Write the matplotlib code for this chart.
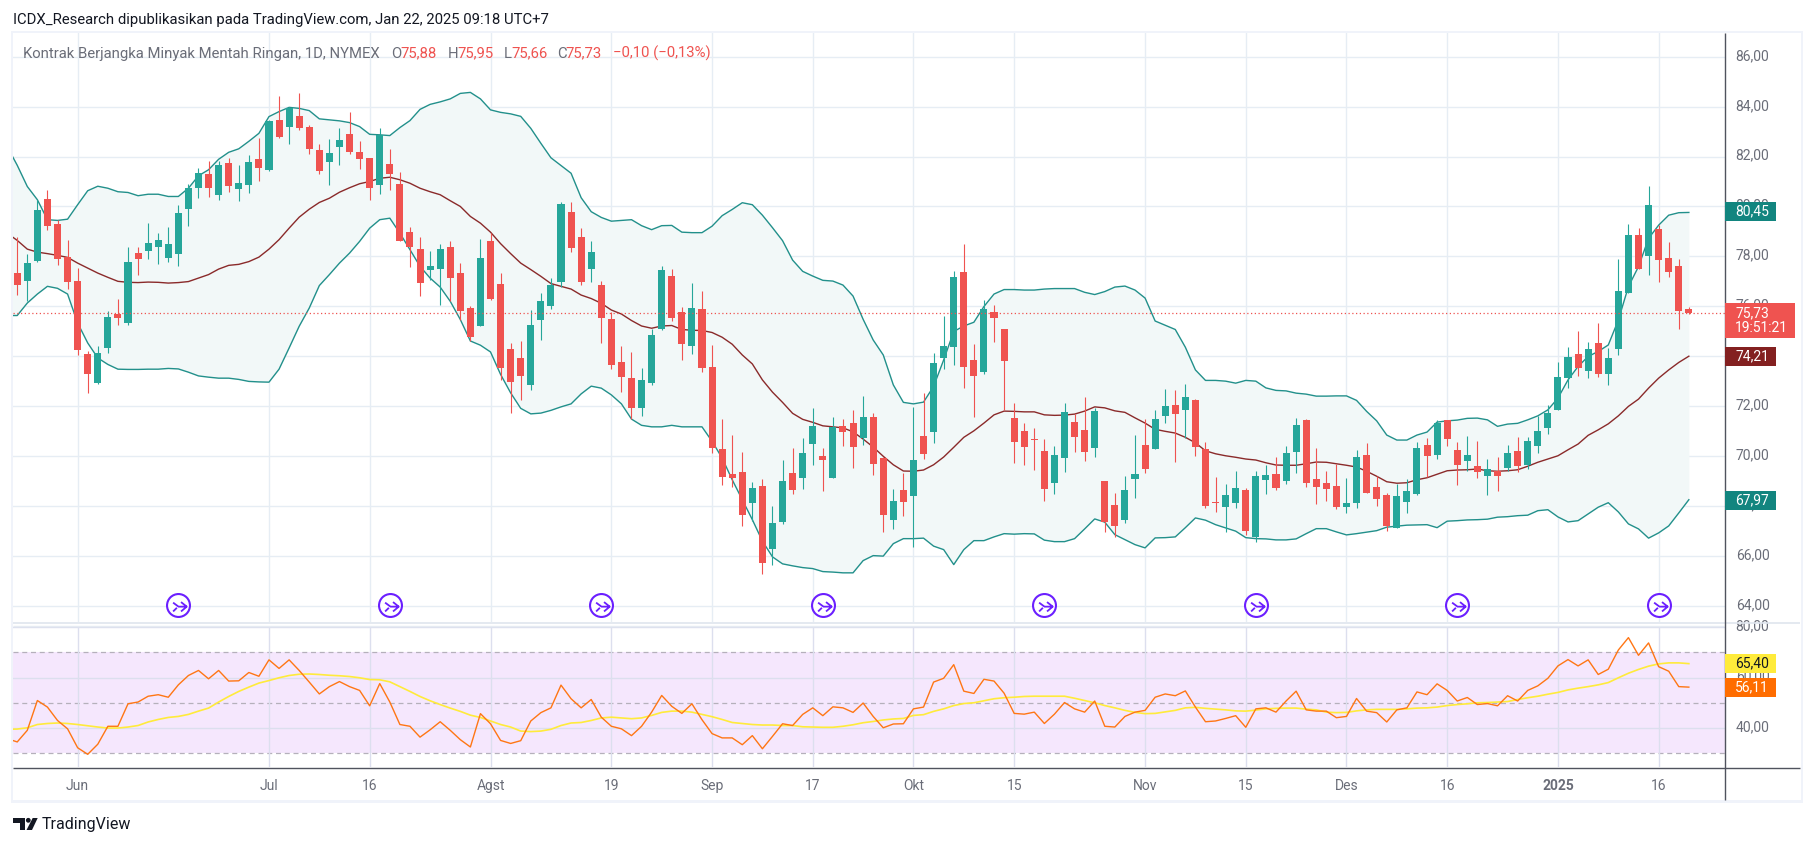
import matplotlib
matplotlib.use("Agg")
import matplotlib.pyplot as plt
import numpy as np
from matplotlib.lines import Line2D
from matplotlib.patches import Rectangle, Polygon, Ellipse
from matplotlib.path import Path
from matplotlib.transforms import ScaledTranslation

plt.rcParams['font.family'] = ['Roboto', 'DejaVu Sans']

W, H = 1814, 846

opens = [77.35,77.03,77.83,80.31,79.31,77.99,77.03,74.07,72.91,74.31,
75.71,75.35,78.15,78.23,78.39,77.95,78.11,79.91,80.75,81.31,
80.47,81.75,80.71,80.87,81.91,81.47,83.47,83.19,83.63,83.19,
82.27,81.79,82.39,82.91,82.19,81.95,80.87,81.71,80.91,78.99,
78.31,77.47,77.51,78.39,77.35,75.95,75.23,78.63,76.91,74.27,
73.91,72.83,75.47,76.03,76.99,79.79,78.79,77.51,76.85,75.49,
73.77,73.13,71.93,72.93,75.09,77.21,75.77,74.41,75.89,73.57,
70.29,69.29,69.37,68.13,68.81,66.29,67.37,69.33,69.13,70.49,
70.01,69.13,71.21,71.33,70.73,71.57,69.93,67.45,68.65,68.41,
70.81,70.97,73.93,74.37,77.37,73.85,73.37,75.77,75.09,71.53,
71.01,70.69,70.21,68.93,69.93,71.37,71.05,70.33,69.01,68.05,
67.45,69.09,70.45,70.29,71.61,72.05,71.85,72.25,70.29,68.17,
67.97,68.13,68.65,66.77,69.05,69.29,69.01,70.17,71.45,69.09,
68.93,68.81,67.97,68.13,70.05,68.77,68.45,67.13,68.17,68.49,
70.45,70.05,71.45,70.25,69.81,69.61,69.21,69.41,69.53,70.21,
69.65,70.41,71.13,71.85,73.13,74.09,73.41,74.53,73.29,74.29,
76.53,78.85,78.01,79.09,77.93,77.61,75.88]

highs = [78.77,78.11,80.27,80.67,79.47,78.67,77.53,74.19,74.39,75.83,
76.31,78.36,78.39,79.35,78.95,79.19,80.07,80.91,81.55,81.83,
81.83,81.95,81.67,82.07,82.75,83.47,84.43,83.99,84.55,83.27,
82.51,82.71,83.15,83.79,82.63,81.95,83.15,82.31,81.39,79.19,
78.79,78.23,78.51,78.63,77.75,76.00,78.71,78.95,77.35,74.51,
74.59,75.87,76.55,77.15,80.19,80.19,79.15,78.63,77.01,75.77,
74.41,74.17,73.53,75.09,77.61,77.49,75.97,76.93,76.61,74.45,
71.49,70.85,70.17,68.97,69.09,68.01,69.85,70.33,70.73,71.93,
70.33,71.57,71.49,71.85,72.41,71.73,69.97,68.69,69.33,71.97,
72.53,74.12,75.61,77.41,78.49,74.49,76.25,76.05,75.09,72.13,
71.33,71.13,70.69,70.41,72.13,71.69,72.37,71.93,69.01,68.53,
69.21,70.85,71.49,71.85,72.69,72.65,72.89,72.29,70.57,69.17,
68.89,69.41,68.73,69.41,69.65,69.97,70.41,71.53,71.49,70.33,
69.41,69.69,69.13,70.25,70.53,69.21,68.52,68.89,69.09,70.57,
70.73,71.45,71.45,70.57,70.81,70.61,69.89,69.97,70.45,70.77,
70.77,71.61,72.05,73.77,74.37,75.01,74.57,75.33,74.33,77.89,
79.29,79.13,80.81,79.25,78.57,77.89,75.97]

lows = [76.47,76.20,77.76,79.04,77.67,76.71,74.03,72.51,72.87,74.11,
75.27,75.27,77.27,77.91,77.71,77.79,77.63,79.23,80.35,80.39,
80.27,80.59,80.23,80.55,81.03,81.44,82.75,82.51,83.07,82.11,
81.31,80.87,81.67,82.11,81.51,80.27,80.51,80.67,78.63,77.59,
76.43,77.07,76.07,76.20,75.47,74.60,75.23,76.27,73.03,71.71,
72.23,72.63,74.63,75.91,76.79,78.19,76.87,76.99,74.53,73.49,
72.57,71.49,71.61,72.85,75.05,75.41,73.85,74.09,73.37,70.13,
68.85,68.77,67.21,67.39,65.29,65.65,67.29,68.49,68.69,69.65,
68.61,69.13,70.41,69.53,70.45,69.25,66.97,67.09,67.61,66.37,
69.89,70.53,73.49,73.65,72.73,71.57,73.29,74.57,71.85,69.73,
69.65,69.45,68.21,68.49,69.37,70.17,69.81,69.97,66.97,66.77,
67.33,68.33,69.33,70.29,71.33,69.77,70.73,70.01,67.93,67.77,
66.97,67.93,66.85,66.57,68.49,68.65,68.89,69.33,68.77,68.09,
68.21,67.89,67.73,67.93,68.53,68.01,67.01,67.13,67.73,68.45,
69.17,69.89,70.41,68.85,69.41,69.13,68.45,68.61,69.41,69.37,
69.49,70.13,70.89,71.85,72.73,73.21,73.13,73.17,72.85,74.05,
76.53,77.49,77.25,76.97,77.17,75.09,75.69]

closes = [76.87,77.75,79.87,79.23,77.91,76.99,74.23,73.27,74.11,75.59,
75.55,77.79,77.91,78.55,78.67,78.51,79.75,80.75,81.35,80.75,
81.67,80.83,80.95,81.79,81.55,83.43,82.79,83.95,83.15,82.31,
81.43,82.15,82.67,82.19,81.91,80.75,82.87,81.31,78.63,78.39,
76.95,77.63,78.31,77.15,75.83,74.75,77.95,76.31,73.51,72.95,
73.19,75.27,76.23,76.87,80.11,78.35,76.99,78.19,75.55,73.65,
73.17,71.93,73.05,74.85,77.45,75.53,74.49,75.93,73.53,70.33,
69.17,69.13,67.65,68.73,65.73,67.33,69.01,68.65,70.13,71.21,
69.85,71.17,70.97,70.37,71.57,69.69,67.65,68.21,68.17,69.85,
70.09,73.73,74.41,77.17,73.57,73.21,75.89,75.53,73.81,70.57,
70.37,70.65,68.69,70.05,71.77,70.77,70.17,71.81,67.37,67.21,
68.65,69.29,69.49,71.49,72.01,71.69,72.37,70.37,68.01,68.13,
68.45,68.73,67.01,69.21,69.25,68.73,70.13,71.25,68.93,68.77,
68.69,67.97,68.13,69.97,68.53,68.29,67.21,68.41,68.61,70.33,
70.01,71.33,70.69,69.65,70.05,69.37,69.49,69.21,70.13,69.61,
70.61,71.01,71.73,73.17,73.97,73.53,74.29,73.29,73.93,76.61,
78.85,77.49,80.05,77.85,77.37,75.81,75.73]

# Bollinger bands and RSI start one bar before the first visible candle
bb_upper = [82.40,81.65,80.80,80.27,79.47,79.44,79.49,80.07,80.63,80.81,80.73,
80.59,80.56,80.43,80.49,80.49,80.40,80.40,80.73,81.23,81.47,
81.89,82.17,82.31,82.61,82.93,83.60,83.80,83.97,83.93,83.84,
83.51,83.47,83.43,83.36,83.20,82.89,82.87,82.84,83.16,83.44,
83.89,84.09,84.19,84.31,84.53,84.57,84.31,83.87,83.77,83.71,
83.61,83.13,82.53,81.95,81.64,81.33,80.35,79.79,
79.56,79.41,79.44,79.47,79.23,79.07,79.23,79.24,78.97,78.95,
78.95,79.21,79.63,79.88,80.15,80.07,79.65,79.15,78.63,77.85,
77.40,77.21,77.04,77.01,76.85,76.41,75.48,74.65,74.05,72.85,
72.15,72.09,72.16,72.79,73.85,74.99,75.21,75.36,75.99,76.49,
76.67,76.67,76.65,76.65,76.69,76.71,76.71,76.71,76.56,76.47,
76.59,76.77,76.81,76.65,76.33,75.41,75.24,75.07,74.36,73.45,
73.03,73.03,73.00,72.92,73.03,73.00,72.73,72.63,72.61,72.52,
72.48,72.40,72.40,72.41,72.41,72.23,71.79,71.41,70.84,70.64,
70.64,70.84,70.96,71.36,71.41,71.44,71.51,71.52,71.45,71.19,
71.28,71.31,71.45,71.61,71.85,72.32,73.05,73.59,73.99,74.19,
74.45,75.45,76.79,77.59,78.72,79.25,79.65,79.75,79.76]

bb_lower = [75.63,75.63,76.13,76.49,76.80,76.72,76.49,75.33,74.53,73.93,73.67,
73.48,73.47,73.47,73.48,73.48,73.51,73.49,73.36,73.21,73.16,
73.12,73.12,73.07,72.99,72.97,72.96,73.48,74.33,75.20,75.93,
76.83,77.27,77.73,78.13,78.60,79.13,79.47,79.53,78.93,78.27,
77.60,77.13,76.77,76.20,75.47,74.61,74.44,74.17,73.27,72.53,
71.91,71.69,71.72,71.83,71.97,72.09,72.49,72.80,
72.72,72.45,72.09,71.48,71.23,71.17,71.17,71.23,71.17,71.17,
71.17,70.59,69.92,69.05,68.25,67.45,66.59,65.96,65.68,65.60,
65.53,65.49,65.37,65.35,65.32,65.32,65.81,66.01,65.99,66.49,
66.69,66.69,66.71,66.39,66.25,65.65,66.25,66.61,66.61,66.76,
66.89,66.87,66.89,66.88,66.63,66.57,66.57,66.69,67.08,67.48,
67.35,66.85,66.65,66.45,66.32,66.72,66.73,66.76,67.13,67.52,
67.43,67.25,67.12,66.99,66.73,66.69,66.68,66.64,66.64,66.68,
66.89,67.09,67.09,66.96,66.84,66.89,66.95,67.01,67.15,67.19,
67.23,67.24,67.25,67.13,67.39,67.41,67.44,67.45,67.47,67.55,
67.57,67.61,67.63,67.81,67.85,67.56,67.36,67.41,67.68,67.95,
68.13,67.76,67.28,67.08,66.71,66.92,67.20,67.72,68.25]

bb_basis = [78.93,78.64,78.29,78.17,78.11,78.04,77.96,77.73,77.53,77.33,77.16,
77.00,76.96,76.95,76.97,76.96,76.93,76.95,76.99,77.13,77.27,
77.49,77.64,77.68,77.79,77.97,78.29,78.67,79.13,79.57,79.89,
80.16,80.33,80.57,80.75,80.91,81.00,81.13,81.17,81.07,80.93,
80.73,80.59,80.47,80.23,80.00,79.60,79.33,78.97,78.51,78.11,
77.73,77.47,77.20,76.91,76.80,76.69,76.45,76.31,
76.12,75.85,75.69,75.43,75.21,75.12,75.21,75.23,75.07,75.04,
75.03,74.95,74.76,74.48,74.05,73.69,73.05,72.56,72.15,71.71,
71.47,71.35,71.21,71.17,71.13,70.97,70.68,70.36,69.99,69.65,
69.40,69.39,69.44,69.65,69.96,70.35,70.75,71.01,71.32,71.65,
71.80,71.79,71.77,71.77,71.65,71.63,71.64,71.68,71.80,71.97,
71.93,71.81,71.75,71.53,71.32,71.07,70.99,70.92,70.75,70.53,
70.21,70.09,70.01,69.95,69.88,69.84,69.73,69.64,69.63,69.63,
69.69,69.76,69.75,69.69,69.63,69.56,69.39,69.19,68.97,68.91,
68.93,69.05,69.13,69.27,69.41,69.44,69.45,69.48,69.41,69.39,
69.41,69.45,69.59,69.75,69.88,70.01,70.25,70.48,70.83,71.05,
71.29,71.61,71.99,72.28,72.72,73.12,73.45,73.75,74.00]

rsi = [35.8,34.5,39.1,50.9,48.3,43.0,39.7,32.2,29.6,33.6,40.7,
40.7,49.6,50.3,52.6,53.2,52.2,57.1,60.8,62.8,59.5,
62.8,58.6,58.7,62.0,60.5,67.0,63.6,67.0,62.8,58.2,
53.5,56.4,58.4,56.4,54.9,48.8,57.6,50.3,41.4,40.7,
36.4,39.3,42.5,39.1,35.4,32.5,45.7,41.7,35.1,33.9,
35.0,42.8,46.1,48.0,57.0,51.6,48.0,51.3,44.3,40.7,
39.7,37.0,40.7,46.3,52.9,48.6,45.8,49.6,43.3,37.8,
36.1,36.1,33.4,37.0,31.8,36.7,41.7,41.0,45.4,48.0,
44.9,48.4,48.0,46.2,49.9,44.6,40.1,41.6,41.7,47.6,
48.3,58.2,59.7,65.1,54.6,53.7,59.3,58.6,53.8,45.8,
45.5,46.3,41.8,45.5,50.1,47.6,46.3,50.7,40.7,40.4,
44.6,46.3,47.0,52.2,53.5,52.8,54.7,48.3,42.5,42.8,
43.8,44.9,40.3,47.6,48.0,46.3,50.7,54.6,47.2,46.7,
46.7,44.1,44.6,51.7,46.7,46.1,42.4,47.2,48.0,54.3,
53.2,57.5,54.9,50.7,52.1,49.3,49.7,48.8,52.8,50.7,
54.9,56.7,59.7,64.6,67.1,64.6,67.0,61.2,63.3,70.9,
75.8,68.8,73.7,64.3,62.5,56.4,56.2]

rsi_ma = [39.5,39.6,40.1,41.4,41.8,42.0,41.8,41.4,40.9,40.4,40.0,
40.0,40.4,41.0,42.4,43.4,44.2,44.6,45.4,46.7,47.9,
50.3,52.5,54.5,56.2,57.8,58.8,59.9,60.8,61.3,61.4,
61.2,60.9,60.7,60.4,59.9,59.2,59.1,58.3,56.4,54.5,
52.5,50.8,49.3,47.9,46.6,45.1,44.2,42.8,41.4,40.4,
38.8,38.6,38.8,39.5,41.0,42.0,42.2,43.0,44.0,44.3,
44.0,43.7,44.0,45.0,46.2,46.7,46.7,46.3,45.4,44.5,
43.4,42.2,41.8,41.4,41.2,41.2,41.0,41.0,40.5,40.4,
40.3,40.3,40.7,41.3,42.1,42.6,43.2,43.6,43.8,45.0,
45.3,46.6,47.6,48.9,49.7,50.0,50.8,51.6,52.0,52.2,
52.5,52.6,52.6,52.6,52.6,51.8,50.9,50.0,48.9,48.0,
47.0,46.2,45.7,45.8,46.4,47.0,48.0,48.2,47.8,47.5,
47.2,46.8,46.7,47.1,47.6,47.8,47.9,47.9,47.5,47.2,
46.3,46.1,46.2,46.8,47.2,47.4,47.4,47.4,47.6,47.9,
48.0,48.3,48.9,49.3,49.6,50.0,50.1,50.3,50.5,51.3,
52.0,52.6,53.4,54.1,55.1,55.8,56.4,57.1,58.0,59.9,
61.7,63.2,64.5,65.4,65.8,65.8,65.5]

tick_idx = [6, 25, 35, 47, 59, 69, 79, 89, 99, 112, 122, 132, 142, 153, 163]
tick_labels = ["Jun", "Jul", "16", "Agst", "19", "Sep", "17", "Okt", "15", "Nov", "15", "Des", "16", "2025", "16"]
price_ticks = [64, 66, 68, 70, 72, 74, 76, 78, 80, 82, 84, 86]
rsi_ticks = [40, 60, 80]
dividend_idx = [16, 37, 58, 80, 102, 123, 143, 163]
last_price = 75.73

UP, DOWN = "#26a69a", "#ef5350"
GRID = "#e6edf4"
BAND = "#22908b"
TXT = "#6a6d78"


def pane(x0, y0, x1, y1):
    return fig.add_axes([x0 / W, 1 - y1 / H, (x1 - x0) / W, (y1 - y0) / H])


def fig_rect(x0, y0, x1, y1, color, z=5):
    fig.add_artist(Rectangle((x0 / W, 1 - y1 / H), (x1 - x0) / W, (y1 - y0) / H,
                             transform=fig.transFigure, fc=color, ec="none", zorder=z))


def fig_line(x0, y0, x1, y1, color, lw):
    fig.add_artist(Line2D([x0 / W, x1 / W], [1 - y0 / H, 1 - y1 / H], color=color, lw=lw,
                          transform=fig.transFigure, zorder=6, solid_capstyle="butt"))


def tag(y0, y1, x1, label, color, fc, extra=None):
    fig_rect(1725, y0, x1, y1, fc, z=7)
    if extra:
        fig.text(1735 / W, 1 - (y0 + 10.5) / H, label, color=color, fontsize=10, va="center", zorder=8)
        fig.text(1735 / W, 1 - (y0 + 25) / H, extra, color=color, fontsize=10, va="center", zorder=8)
    else:
        fig.text(1735 / W, 1 - (y0 + y1) / 2 / H, label, color=color, fontsize=10, va="center", zorder=8)


fig = plt.figure(figsize=(W / 100, H / 100), dpi=100, facecolor="white")
ax = pane(13.4, 33, 1724.6, 622)
ax2 = pane(13.4, 626, 1724.6, 767.3)
lift = ScaledTranslation(0, 2.3 / 100, fig.dpi_scale_trans)

n = len(closes)
x = np.arange(n)
x_ind = np.arange(-1, n)

# price pane
ax.fill_between(x_ind, bb_lower, bb_upper, color="#f2f8f8", lw=0, zorder=1)
ax.plot(x_ind, bb_upper, color=BAND, lw=1.0, zorder=2)
ax.plot(x_ind, bb_lower, color=BAND, lw=1.0, zorder=2)
ax.plot(x_ind, bb_basis, color="#8a2a2a", lw=1.0, zorder=2)
colors = [UP if c >= o else DOWN for o, c in zip(opens, closes)]
ax.vlines(x, lows, highs, color=colors, lw=0.8, zorder=3)
ax.bar(x, np.abs(np.array(closes) - np.array(opens)), bottom=np.minimum(opens, closes),
       width=0.7, color=colors, lw=0, zorder=4)
ax.axhline(last_price, color=DOWN, lw=0.9, ls=(0, (1, 2)), zorder=5)

ax.set_xlim(-0.38, 169.55)
ax.set_ylim(63.35, 86.95)
ax.set_yticks(price_ticks)
ax.set_yticklabels([f"{p},00" for p in price_ticks], color=TXT, fontsize=10)
ax.yaxis.tick_right()
ax.tick_params(axis="y", length=0, pad=8)
for lab in ax.get_yticklabels():
    lab.set_transform(lab.get_transform() + lift)
ax.set_xticks(tick_idx)
ax.tick_params(axis="x", length=0, labelbottom=False)
ax.grid(color=GRID, lw=1.0, zorder=0)
ax.set_axisbelow(True)
for s in ax.spines.values():
    s.set_visible(False)

# dividend markers
glyph = Path([(-0.47, 0.25), (0.0, -0.1), (0.72, -0.1), (0.22, 0.3), (0.72, -0.1), (0.22, -0.52),
              (-0.47, -0.52), (-0.14, -0.2), (1, 1), (-1, -1)],
             [Path.MOVETO, Path.LINETO, Path.LINETO, Path.MOVETO, Path.LINETO, Path.LINETO,
              Path.MOVETO, Path.LINETO, Path.MOVETO, Path.MOVETO])
div_y = [64.05] * len(dividend_idx)
ax.plot(dividend_idx, div_y, ls="none", marker="o", ms=16.5, mfc="white", mec="#6b1fff", mew=1.5, zorder=6)
ax.plot(dividend_idx, div_y, ls="none", marker=glyph, ms=16.5, mfc="none", mec="#6b1fff", mew=1.3, zorder=7)

# RSI pane
ax2.axhspan(30, 70, color="#f5e7fd", lw=0, zorder=0)
ax2.plot(x_ind, rsi_ma, color="#ffeb3b", lw=1.2, zorder=3)
ax2.plot(x_ind, rsi, color="#ff7614", lw=1.0, zorder=4)
for lev in (30, 50, 70):
    ax2.axhline(lev, color="#b5b0bb", lw=0.9, ls=(0, (4, 3)), zorder=2)
ax2.set_xlim(-0.38, 169.55)
ax2.set_ylim(24.46, 80.4)
ax2.set_yticks(rsi_ticks)
ax2.set_yticklabels([f"{r},00" for r in rsi_ticks], color=TXT, fontsize=10)
ax2.yaxis.tick_right()
ax2.tick_params(axis="y", length=0, pad=8)
for lab in ax2.get_yticklabels():
    lab.set_transform(lab.get_transform() + lift)
ax2.set_xticks(tick_idx)
ax2.set_xticklabels(tick_labels, color=TXT, fontsize=10)
ax2.get_xticklabels()[13].set_fontweight("bold")
ax2.tick_params(axis="x", length=0, pad=8.5)
ax2.grid(color="#dcdfee", lw=1.0, zorder=1)
ax2.set_axisbelow(False)
for s in ax2.spines.values():
    s.set_visible(False)

# frame, separators, axis lines
fig_rect(11, 31, 1803, 33.5, "#f0f3fa")
fig_rect(11, 31, 13.4, 803, "#f0f3fa")
fig_rect(11, 800, 1803, 803, "#f0f3fa")
fig_rect(1800.5, 31, 1803, 803, "#f0f3fa")
fig_line(13.4, 622.5, 1800, 622.5, "#dfe5ee", 1.2)
fig_line(13.4, 626, 1724, 626, "#e6ebf2", 1.0)
fig_line(13.4, 767.5, 1800, 767.5, "#50535e", 1.0)
fig_line(1724.5, 33, 1724.5, 800, "#50535e", 1.0)

# value tags
tag(202, 221, 1776, "80,45", "white", "#12857f")
tag(303, 338, 1795, "75,73", "white", "#ef5350", extra="19:51:21")
tag(347, 366, 1776, "74,21", "white", "#832020")
tag(491, 510, 1776, "67,97", "white", "#12857f")
tag(654, 673, 1776, "65,40", "#131722", "#ffeb3b")
tag(678, 697, 1776, "56,11", "white", "#ff6d00")

# header and legend
fig.text(13 / W, 1 - 20 / H, "ICDX_Research dipublikasikan pada TradingView.com, Jan 22, 2025 09:18 UTC+7",
         color="#131722", fontsize=10.7, va="center")
LEG_Y = 1 - 53.7 / H
fig.text(23 / W, LEG_Y, "Kontrak Berjangka Minyak Mentah Ringan, 1D, NYMEX", color=TXT, fontsize=10.7, va="center")
for px, s, c in [(391, "O", TXT), (400.7, "75,88", DOWN), (447.8, "H", TXT), (457.3, "75,95", DOWN),
                 (503.3, "L", TXT), (511, "75,66", DOWN), (556.8, "C", TXT), (565, "75,73", DOWN),
                 (613, "\u22120,10 (\u22120,13%)", DOWN)]:
    fig.text(px / W, LEG_Y, s, color=c, fontsize=10.7, va="center")

# logo
LOGO = "#131722"
fig_rect(13, 818, 25, 822.5, LOGO)
fig_rect(20, 818, 25, 830, LOGO)
fig.add_artist(Ellipse((28.3 / W, 1 - 820.3 / H), 4.8 / W, 4.8 / H, transform=fig.transFigure, fc=LOGO, ec="none"))
fig.add_artist(Polygon([(32.7 / W, 1 - 818 / H), (37.7 / W, 1 - 818 / H), (32 / W, 1 - 830 / H), (26.5 / W, 1 - 830 / H)],
                       transform=fig.transFigure, fc=LOGO, ec="none"))
fig.text(42 / W, 1 - 824.5 / H, "TradingView", color="#131722", fontsize=11.5, va="center")

fig.savefig("out.png", dpi=100)
